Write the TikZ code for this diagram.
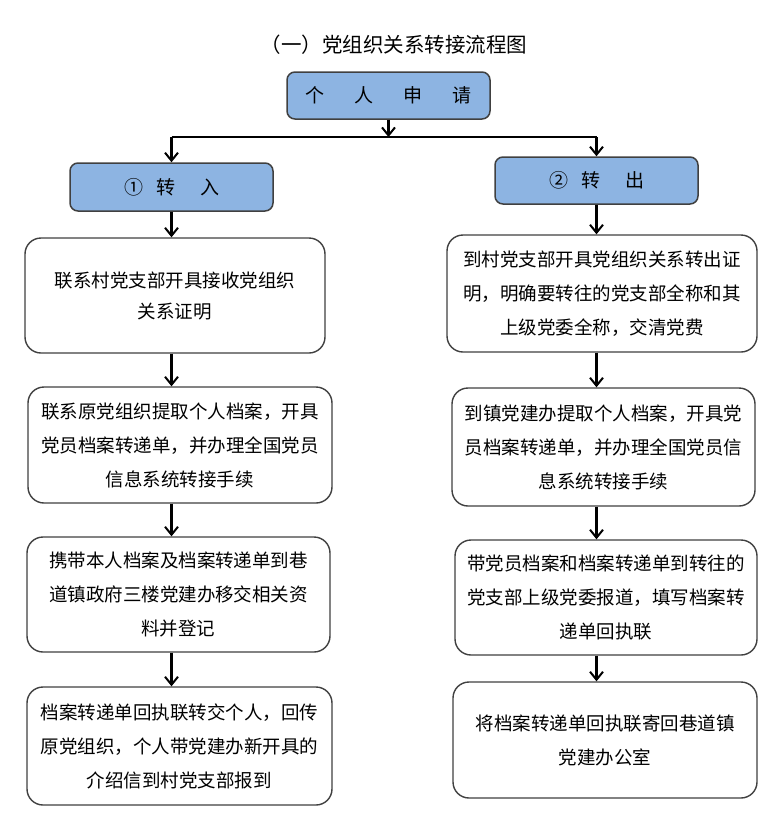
\documentclass[tikz,border=0pt]{standalone}
\usepackage{fontspec}
\setmainfont{Noto Sans CJK SC}
\usetikzlibrary{arrows.meta}
\definecolor{hdblue}{HTML}{8DB4E2}
\definecolor{edgegray}{HTML}{404040}
\tikzset{
  hdbox/.style={draw=edgegray, line width=1.5pt, fill=hdblue, rounded corners=8pt, minimum height=47pt, minimum width=203pt, inner sep=0pt, font=\fontsize{19}{22}\selectfont},
  stepbox/.style={draw=edgegray, line width=1.4pt, fill=white, rounded corners=16pt, align=center, inner sep=0pt, font=\fontsize{18.5}{34}\selectfont},
  arr/.style={draw=black, line width=2.2pt, -{Straight Barb[length=8pt,width=13pt,line width=2pt]}},
  ln/.style={draw=black, line width=1.6pt}
}
\begin{document}
\begin{tikzpicture}[x=1pt,y=-1pt]
\useasboundingbox (0,0) rectangle (780,823);
\node[font=\fontsize{20.5}{24}\selectfont] (title) at (394,45) {（一）党组织关系转接流程图};
\node[hdbox] (apply) at (388.5,95.5) {个\hspace{30pt}人\hspace{30pt}申\hspace{30pt}请};
\node[hdbox, minimum height=48pt] (in) at (171.5,187) {①\hspace{14pt}转\hspace{24pt}入};
\node[hdbox] (out) at (596.5,180.5) {②\hspace{14pt}转\hspace{24pt}出};

\node[stepbox, minimum width=300pt, minimum height=115pt] (L1) at (175,295.5) {联系村党支部开具接收党组织\\[-3pt]关系证明};
\node[stepbox, minimum width=304pt, minimum height=116pt] (L2) at (180,445) {联系原党组织提取个人档案，开具\\党员档案转递单，并办理全国党员\\信息系统转接手续};
\node[stepbox, minimum width=303pt, minimum height=115pt] (L3) at (178.5,594.5) {携带本人档案及档案转递单到巷\\道镇政府三楼党建办移交相关资\\料并登记};
\node[stepbox, minimum width=305pt, minimum height=118pt] (L4) at (179.5,746) {档案转递单回执联转交个人，回传\\原党组织，个人带党建办新开具的\\介绍信到村党支部报到};

\node[stepbox, minimum width=310pt, minimum height=117pt] (R1) at (602,293.5) {到村党支部开具党组织关系转出证\\明，明确要转往的党支部全称和其\\上级党委全称，交清党费};
\node[stepbox, minimum width=303pt, minimum height=118pt] (R2) at (603.5,447) {到镇党建办提取个人档案，开具党\\员档案转递单，并办理全国党员信\\息系统转接手续};
\node[stepbox, minimum width=302pt, minimum height=115pt] (R3) at (606,597.5) {带党员档案和档案转递单到转往的\\党支部上级党委报道，填写档案转\\递单回执联};
\node[stepbox, minimum width=304pt, minimum height=116pt] (R4) at (605,740) {将档案转递单回执联寄回巷道镇\\党建办公室};

\coordinate (hl) at (in.north |- 0,137);
\coordinate (hr) at (out.north |- 0,137);
\coordinate (hm) at (apply.south |- 0,137);
\draw[ln] (hl) -- (hr);
\draw[arr] (apply.south) -- (hm);
\draw[arr] (hl) -- (in.north);
\draw[arr] (hr) -- (out.north);

\draw[arr] (in.south) -- (in.south |- L1.north);
\draw[arr] (in.south |- L1.south) -- (in.south |- L2.north);
\draw[arr] (in.south |- L2.south) -- (in.south |- L3.north);
\draw[arr] (in.south |- L3.south) -- (in.south |- L4.north);

\draw[arr] (out.south) -- (out.south |- R1.north);
\draw[arr] (out.south |- R1.south) -- (out.south |- R2.north);
\draw[arr] (out.south |- R2.south) -- (out.south |- R3.north);
\draw[arr] (out.south |- R3.south) -- (out.south |- R4.north);
\end{tikzpicture}
\end{document}
